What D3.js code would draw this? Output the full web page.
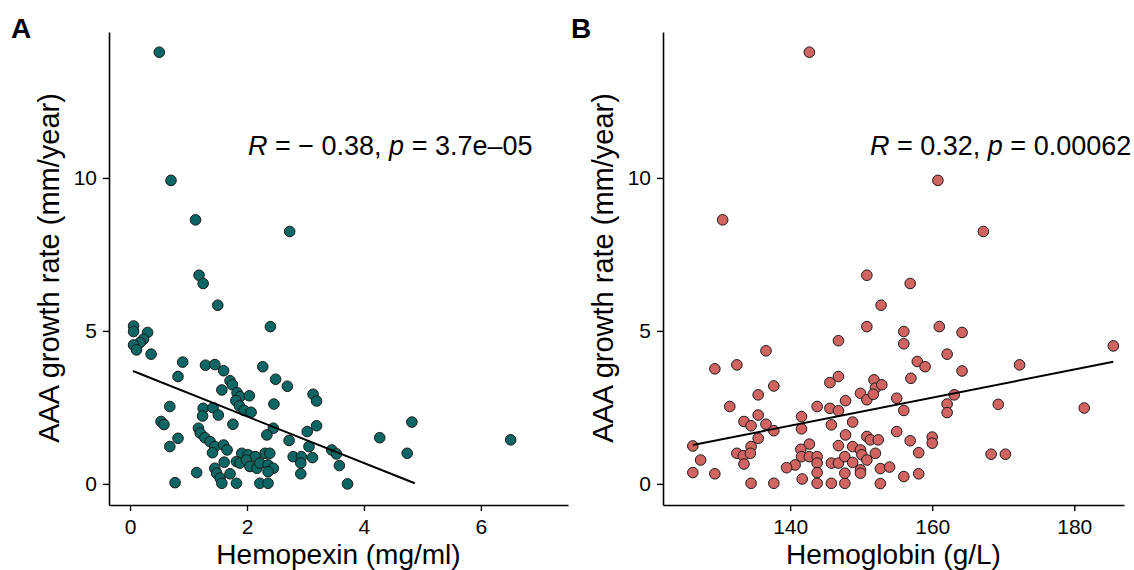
<!DOCTYPE html>
<meta charset="utf-8">

<!-- Load d3.js -->
<script src="https://d3js.org/d3.v7.min.js"></script>

<style>
  body { margin: 0; background: #fff; }
  text { font-family: "Liberation Sans", Arial, Helvetica, sans-serif; }
</style>

<div id="chart"></div>

<script>

    // Panel A: hemopexin vs growth rate
    var hemopexin = [0.50,0.70,1.12,2.73,1.18,1.25,1.50,0.06,0.06,0.30,
        2.40,0.23,0.17,0.06,0.11,0.36,0.90,0.82,1.29,1.45,
        1.60,2.27,1.71,1.75,1.57,2.49,2.69,1.83,1.88,2.04,
        1.81,1.87,1.95,2.07,2.46,0.68,1.25,1.42,1.24,1.51,
        0.53,0.58,1.76,1.17,1.20,1.28,1.37,1.45,0.82,0.68,
        1.60,1.66,1.41,2.45,2.34,2.72,3.13,3.19,3.19,3.03,
        3.06,3.45,3.53,4.27,4.82,4.74,3.58,3.72,6.51,2.79,
        2.93,3.12,2.92,2.92,1.61,1.14,0.77,1.45,1.48,1.54,
        1.57,1.71,1.82,2.22,2.36,1.91,2.02,2.14,1.82,1.88,
        1.99,2.05,2.17,2.22,2.31,2.39,2.36,2.45,2.36];
    var growthA = [14.11,9.92,8.63,8.25,6.82,6.55,5.84,5.16,4.98,4.95,
        5.14,4.73,4.62,4.54,4.38,4.24,3.98,3.51,3.88,3.90,
        3.70,3.83,3.37,3.24,3.07,3.42,3.19,2.98,2.85,2.88,
        2.72,2.55,2.40,2.34,2.61,2.53,2.47,2.49,2.22,2.25,
        2.04,1.94,1.95,1.82,1.66,1.51,1.38,1.22,1.49,1.22,
        1.27,1.11,1.02,1.82,1.60,1.42,2.93,2.71,1.90,1.71,
        1.22,1.11,0.98,1.51,2.02,1.00,0.60,0.00,1.44,0.89,
        0.89,0.86,0.68,0.33,0.71,0.37,0.04,0.51,0.35,0.19,
        0.02,0.33,0.02,0.02,0.02,1.00,0.95,0.89,0.73,0.68,
        0.78,0.57,0.51,0.68,1.00,1.00,0.62,0.51,0.40];
    // fitted line end points
    var fitA = [[0.05, 3.69], [4.87, 0.02]];

    // Panel B: hemoglobin vs growth rate
    var hemoglobin = [142.7,160.8,130.5,167.2,150.8,156.9,152.8,150.8,146.8,136.6,
        129.4,132.5,137.7,135.5,131.5,145.6,146.8,151.8,152.0,152.9,
        149.9,150.8,151.7,147.8,143.8,145.6,146.8,135.5,141.6,133.5,
        134.5,136.6,137.7,141.6,145.8,148.8,126.3,135.5,134.5,132.5,
        133.4,134.4,133.5,127.4,126.3,129.4,134.5,137.7,142.7,141.5,
        141.6,142.7,143.8,143.8,140.7,139.5,143.8,141.7,143.8,145.8,
        147.7,146.8,147.8,148.8,149.9,150.1,150.8,151.3,152.0,152.4,
        145.8,146.8,147.7,147.7,148.8,149.9,149.9,150.8,152.7,152.7,
        156.0,156.0,161.0,164.2,162.1,157.9,159.0,164.2,172.3,157.0,
        155.0,156.0,163.1,162.1,162.1,169.3,155.0,156.9,160.0,160.0,
        158.1,168.3,170.3,154.0,156.0,158.1,181.4,185.5];
    var growthB = [14.11,9.92,8.63,8.25,6.82,6.55,5.84,5.14,4.68,4.35,
        3.76,3.89,3.20,2.91,2.53,3.31,3.51,3.40,3.13,3.24,
        2.96,2.75,2.93,2.72,2.53,2.47,2.39,2.25,2.20,2.04,
        1.90,1.95,1.74,1.80,1.93,2.02,1.24,1.49,1.22,1.00,
        0.92,1.00,0.65,0.78,0.37,0.33,0.02,0.02,1.30,1.13,
        0.89,0.89,0.89,0.68,0.62,0.53,0.37,0.16,0.02,0.02,
        0.02,1.25,1.60,1.22,1.11,0.95,1.55,1.44,1.00,1.44,
        0.68,0.68,0.89,0.35,0.70,0.46,0.35,0.78,0.50,0.01,
        4.98,4.58,5.14,4.95,4.24,4.00,3.83,3.69,3.89,3.45,
        2.80,2.40,2.91,2.61,2.33,2.60,1.71,1.41,1.53,1.33,
        1.02,0.97,0.97,0.55,0.24,0.33,2.48,4.51];
    var fitB = [[126.3, 1.27], [185.5, 3.99]];

    var yTicks = [0, 5, 10];
    var xTicksA = [0, 2, 4, 6];
    var xTicksB = [140, 160, 180];

    var svg = d3.select("#chart")
        .append("svg")
            .attr("width", 1134)
            .attr("height", 570);

    function drawPanel(p) {
        var x = d3.scaleLinear().domain(p.xDomain).range([p.left, p.right]);
        var y = d3.scaleLinear().domain([-0.69, 14.77]).range([505, 32]);

        var g = svg.append("g");

        // axes
        var xAxis = g.append("g")
            .attr("transform", "translate(0,505)")
            .call(d3.axisBottom(x).tickValues(p.xTicks).tickSize(6).tickSizeOuter(0).tickPadding(8));
        var yAxis = g.append("g")
            .attr("transform", "translate(" + p.left + ",0)")
            .call(d3.axisLeft(y).tickValues(yTicks).tickSize(6).tickSizeOuter(0).tickPadding(6));

        [xAxis, yAxis].forEach(function (a) {
            a.select(".domain").attr("stroke", "#000").attr("stroke-width", 1.6);
            a.selectAll(".tick line").attr("stroke", "#000").attr("stroke-width", 1.4);
            a.selectAll(".tick text")
                .attr("fill", "#000")
                .style("font-size", "21px")
                .style("font-family", "'Liberation Sans', Arial, sans-serif");
        });

        // points
        var pts = d3.range(Math.min(p.xs.length, p.ys.length)).map(function (i) {
            return {x: p.xs[i], y: p.ys[i]};
        });
        g.append("g")
            .selectAll("circle")
            .data(pts)
            .enter()
            .append("circle")
            .attr("cx", function (d) { return x(d.x); })
            .attr("cy", function (d) { return y(d.y); })
            .attr("r", 5.3)
            .attr("fill", p.color)
            .attr("stroke", "#1a1a1a")
            .attr("stroke-width", 1);

        // regression line
        g.append("path")
            .datum(p.fit)
            .attr("fill", "none")
            .attr("stroke", "#000")
            .attr("stroke-width", 2)
            .attr("d", d3.line().x(function (d) { return x(d[0]); }).y(function (d) { return y(d[1]); }));

        // correlation label
        var t = g.append("text")
            .attr("x", p.labelX)
            .attr("y", 155)
            .style("font-size", "27px")
            .attr("fill", "#000");
        t.append("tspan").style("font-style", "italic").text("R");
        t.append("tspan").text(p.rText);
        t.append("tspan").style("font-style", "italic").text("p");
        t.append("tspan").text(p.pText);

        // axis titles
        g.append("text")
            .attr("x", (p.left + p.right) / 2)
            .attr("y", 564)
            .attr("text-anchor", "middle")
            .style("font-size", "28px")
            .text(p.xTitle);
        g.append("text")
            .attr("transform", "translate(" + (p.left - 50) + "," + 268 + ") rotate(-90)")
            .attr("text-anchor", "middle")
            .style("font-size", "29px")
            .text("AAA growth rate (mm/year)");

        // panel letter
        g.append("text")
            .attr("x", p.tagX)
            .attr("y", 38)
            .style("font-size", "28px")
            .style("font-weight", "bold")
            .text(p.tag);
    }

    drawPanel({
        left: 109, right: 568, xDomain: [-0.36, 7.49], xTicks: xTicksA,
        xs: hemopexin, ys: growthA, fit: fitA, color: "#0b6664",
        labelX: 248, rText: " = \u2212 0.38, ", pText: " = 3.7e\u201305",
        xTitle: "Hemopexin (mg/ml)", tag: "A", tagX: 11
    });

    drawPanel({
        left: 663, right: 1124, xDomain: [122.1, 187.0], xTicks: xTicksB,
        xs: hemoglobin, ys: growthB, fit: fitB, color: "#d16361",
        labelX: 870, rText: " = 0.32, ", pText: " = 0.00062",
        xTitle: "Hemoglobin (g/L)", tag: "B", tagX: 571
    });

</script>
